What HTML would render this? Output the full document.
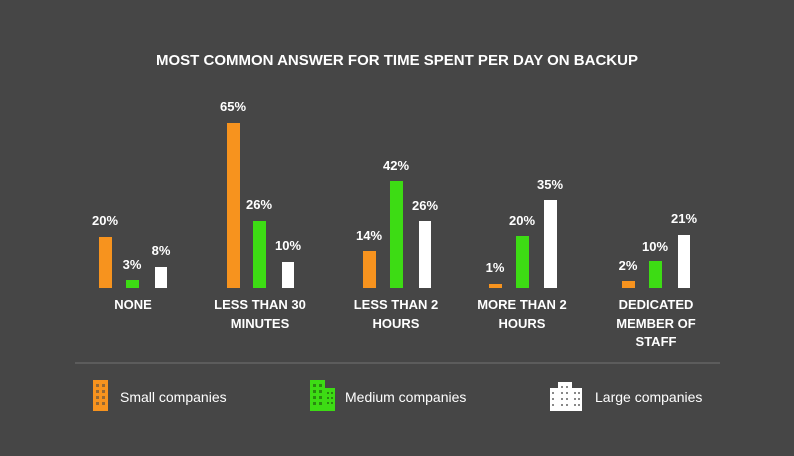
<!DOCTYPE html>
<html><head><meta charset="utf-8"><style>
html,body{margin:0;padding:0;background:#464646;}
svg{display:block}
text{font-family:"Liberation Sans",sans-serif;fill:#fff}
</style></head><body>
<svg width="794" height="456" viewBox="0 0 794 456" xmlns="http://www.w3.org/2000/svg">
<rect width="794" height="456" fill="#464646"/>
<text x="397" y="65" text-anchor="middle" font-size="15" font-weight="bold">MOST COMMON ANSWER FOR TIME SPENT PER DAY ON BACKUP</text>
<g font-size="13" font-weight="bold" text-anchor="middle">
<rect x="99" y="237" width="13" height="51" fill="#f7931e"/><text x="105" y="225">20%</text>
<rect x="126" y="280" width="13" height="8" fill="#3ddc14"/><text x="132" y="269">3%</text>
<rect x="155" y="267" width="12" height="21" fill="#fff"/><text x="161" y="255">8%</text>
<rect x="227" y="123" width="13" height="165" fill="#f7931e"/><text x="233" y="111">65%</text>
<rect x="253" y="221" width="13" height="67" fill="#3ddc14"/><text x="259" y="209">26%</text>
<rect x="282" y="262" width="12" height="26" fill="#fff"/><text x="288" y="250">10%</text>
<rect x="363" y="251" width="13" height="37" fill="#f7931e"/><text x="369" y="240">14%</text>
<rect x="390" y="181" width="13" height="107" fill="#3ddc14"/><text x="396" y="170">42%</text>
<rect x="419" y="221" width="12" height="67" fill="#fff"/><text x="425" y="210">26%</text>
<rect x="489" y="284" width="13" height="4" fill="#f7931e"/><text x="495" y="272">1%</text>
<rect x="516" y="236" width="13" height="52" fill="#3ddc14"/><text x="522" y="225">20%</text>
<rect x="544" y="200" width="13" height="88" fill="#fff"/><text x="550" y="189">35%</text>
<rect x="622" y="281" width="13" height="7" fill="#f7931e"/><text x="628" y="270">2%</text>
<rect x="649" y="261" width="13" height="27" fill="#3ddc14"/><text x="655" y="251">10%</text>
<rect x="678" y="235" width="12" height="53" fill="#fff"/><text x="684" y="223">21%</text>
</g>
<g font-size="13" font-weight="bold" text-anchor="middle">
<text x="133" y="309">NONE</text>
<text x="260" y="309">LESS THAN 30</text><text x="260" y="328">MINUTES</text>
<text x="396" y="309">LESS THAN 2</text><text x="396" y="328">HOURS</text>
<text x="522" y="309">MORE THAN 2</text><text x="522" y="328">HOURS</text>
<text x="656" y="309">DEDICATED</text><text x="656" y="328">MEMBER OF</text><text x="656" y="346">STAFF</text>
</g>
<line x1="75" y1="363" x2="720" y2="363" stroke="#5c5c5c" stroke-width="2"/>
<g>
<rect x="93" y="380" width="15" height="31" fill="#f7931e"/>
<g fill="#464646" opacity="0.55">
<rect x="96" y="384" width="3" height="3"/><rect x="102" y="384" width="3" height="3"/>
<rect x="96" y="390" width="3" height="3"/><rect x="102" y="390" width="3" height="3"/>
<rect x="96" y="396" width="3" height="3"/><rect x="102" y="396" width="3" height="3"/>
<rect x="96" y="402" width="3" height="3"/><rect x="102" y="402" width="3" height="3"/>
</g>
</g>
<g>
<rect x="310" y="380" width="15" height="31" fill="#3ddc14"/><rect x="323" y="388" width="12" height="23" fill="#3ddc14"/>
<g fill="#2a8a10">
<rect x="313" y="384" width="3" height="3"/><rect x="319" y="384" width="3" height="3"/>
<rect x="313" y="390" width="3" height="3"/><rect x="319" y="390" width="3" height="3"/><rect x="327" y="392" width="2" height="2"/><rect x="331" y="392" width="2" height="2"/>
<rect x="313" y="396" width="3" height="3"/><rect x="319" y="396" width="3" height="3"/><rect x="327" y="397" width="2" height="2"/><rect x="331" y="397" width="2" height="2"/>
<rect x="313" y="402" width="3" height="3"/><rect x="319" y="402" width="3" height="3"/><rect x="327" y="402" width="2" height="2"/><rect x="331" y="402" width="2" height="2"/>
</g>
</g>
<g>
<rect x="550" y="388" width="10" height="23" fill="#fff"/><rect x="558" y="382" width="14" height="29" fill="#fff"/><rect x="570" y="388" width="12" height="23" fill="#fff"/>
<g fill="#888">
<rect x="552" y="392" width="2" height="2"/><rect x="552" y="398" width="2" height="2"/><rect x="552" y="404" width="2" height="2"/>
<rect x="561" y="386" width="2" height="2"/><rect x="566" y="386" width="2" height="2"/>
<rect x="561" y="392" width="2" height="2"/><rect x="566" y="392" width="2" height="2"/>
<rect x="561" y="398" width="2" height="2"/><rect x="566" y="398" width="2" height="2"/>
<rect x="561" y="404" width="2" height="2"/><rect x="566" y="404" width="2" height="2"/>
<rect x="574" y="392" width="2" height="2"/><rect x="578" y="392" width="2" height="2"/>
<rect x="574" y="398" width="2" height="2"/><rect x="578" y="398" width="2" height="2"/>
<rect x="574" y="404" width="2" height="2"/><rect x="578" y="404" width="2" height="2"/>
</g>
</g>
<g font-size="14" fill="#fff">
<text x="120" y="402">Small companies</text>
<text x="345" y="402">Medium companies</text>
<text x="595" y="402">Large companies</text>
</g>
</svg>
</body></html>
